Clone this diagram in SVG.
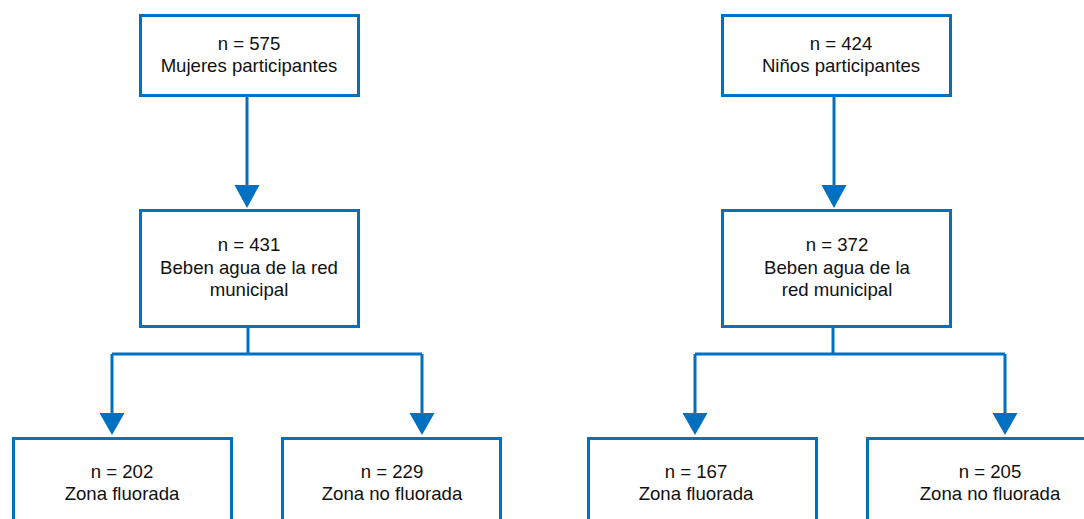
<svg xmlns="http://www.w3.org/2000/svg" width="1084" height="519" viewBox="0 0 1084 519">
<defs>
<style>
.box{fill:#fff;stroke:#0070C0;stroke-width:3}
.ln{fill:none;stroke:#0070C0;stroke-width:3}
.ah{fill:#0070C0;stroke:none}
text{font-family:"Liberation Sans",Arial,sans-serif;font-size:18.6px;fill:#111;text-anchor:middle}
</style>
</defs>
<rect width="1084" height="519" fill="#fff"/>
<g id="connectors">
<path class="ln" d="M247,97 V188"/>
<polygon class="ah" points="234.5,185 259.5,185 247,208"/>
<path class="ln" d="M248,327 V354 M112,354 H422 M112,354 V416 M422,354 V416"/>
<polygon class="ah" points="99.5,413 124.5,413 112,435"/>
<polygon class="ah" points="409.5,413 434.5,413 422,435"/>
<path class="ln" d="M834,97 V188"/>
<polygon class="ah" points="821.5,185 846.5,185 834,208"/>
<path class="ln" d="M833,327 V354 M695,354 H1005 M695,354 V416 M1005,354 V416"/>
<polygon class="ah" points="682.5,413 707.5,413 695,435"/>
<polygon class="ah" points="992.5,413 1017.5,413 1005,435"/>
</g>
<g id="mujeres">
<rect class="box" x="140.5" y="15.5" width="218" height="80"/>
<text x="249" y="50">n = 575</text>
<text x="249" y="72">Mujeres participantes</text>
</g>
<g id="mujeres-red">
<rect class="box" x="140.5" y="210.5" width="218" height="116"/>
<text x="249" y="251">n = 431</text>
<text x="249" y="274">Beben agua de la red</text>
<text x="249" y="296">municipal</text>
</g>
<g id="mujeres-fluorada">
<rect class="box" x="13.5" y="438.5" width="218" height="100"/>
<text x="122" y="478">n = 202</text>
<text x="122" y="500">Zona fluorada</text>
</g>
<g id="mujeres-nofluorada">
<rect class="box" x="282.5" y="438.5" width="218" height="100"/>
<text x="392" y="478">n = 229</text>
<text x="392" y="500">Zona no fluorada</text>
</g>
<g id="ninos">
<rect class="box" x="722.5" y="15.5" width="228" height="80"/>
<text x="841" y="50">n = 424</text>
<text x="841" y="72">Niños participantes</text>
</g>
<g id="ninos-red">
<rect class="box" x="722.5" y="210.5" width="228" height="116"/>
<text x="837" y="251">n = 372</text>
<text x="837" y="274">Beben agua de la</text>
<text x="837" y="296">red municipal</text>
</g>
<g id="ninos-fluorada">
<rect class="box" x="588.5" y="438.5" width="228" height="100"/>
<text x="696" y="478">n = 167</text>
<text x="696" y="500">Zona fluorada</text>
</g>
<g id="ninos-nofluorada">
<rect class="box" x="867.5" y="438.5" width="240" height="100"/>
<text x="990" y="478">n = 205</text>
<text x="990" y="500">Zona no fluorada</text>
</g>
</svg>
